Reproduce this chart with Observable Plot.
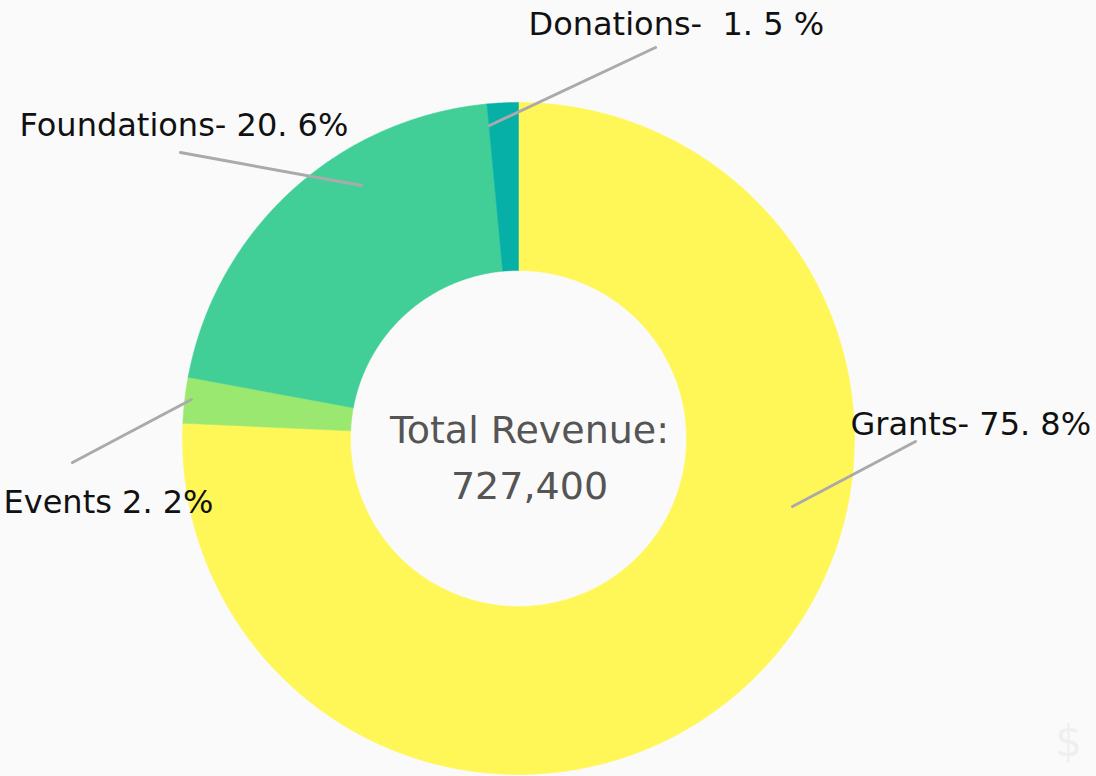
<!DOCTYPE html>
<html>
<head>
<meta charset="utf-8">
<script src="https://cdn.jsdelivr.net/npm/d3@7"></script>
<script src="https://cdn.jsdelivr.net/npm/@observablehq/plot@0.6"></script>
<style>
  html, body { margin: 0; padding: 0; background: #fafafa; }
  #chart svg { display: block; }
</style>
</head>
<body>
<div id="chart"></div>
<script>
// ---- data ----
const categories = ["Grants", "Events", "Foundations", "Donations"];
const shares = [75.8, 2.2, 20.6, 1.5];
const labels = ["Grants- 75. 8%", "Events 2. 2%", "Foundations- 20. 6%", "Donations-\u00a0 1. 5 %"];
const colors = ["#FFF757", "#9BE870", "#41CF97", "#06B0A6"];
const centerTitle = "Total Revenue:";
const totalRevenue = "727,400";
const watermark = "$";

// ---- layout (pixels) ----
const W = 1096, H = 776;
const cx = 518, cy = 438, R = 336, r = 168;
// label anchors (left x, baseline y) and leader lines, per category
const labelPos = [[850, 434], [3, 512], [19, 135], [528, 34]];
const leaders = [[[792, 506], [915, 441]], [[191, 399], [72, 462]], [[361, 185], [180, 152]], [[489, 125], [655, 47]]];

// ---- build slice polygons from the shares ----
const sum = d3.sum(shares);
const pts = [];
let acc = 0;
categories.forEach((c, i) => {
  const a0 = acc / sum * 2 * Math.PI;
  acc += shares[i];
  const a1 = acc / sum * 2 * Math.PI;
  const n = Math.max(4, Math.ceil((a1 - a0) / (Math.PI / 360)));
  const outer = [], inner = [];
  for (let k = 0; k <= n; k++) {
    const a = a0 + (a1 - a0) * k / n;
    outer.push({name: c, x: cx + R * Math.sin(a), y: cy - R * Math.cos(a)});
    inner.push({name: c, x: cx + r * Math.sin(a), y: cy - r * Math.cos(a)});
  }
  pts.push(...outer, ...inner.reverse(), outer[0]);
});

const labelData = categories.map((c, i) => ({name: c, text: labels[i], x: labelPos[i][0], y: labelPos[i][1]}));
const leaderData = categories.flatMap((c, i) => leaders[i].map(([x, y]) => ({name: c, x, y})));
const centerData = [{t: centerTitle, x: cx + 11, y: 442}, {t: totalRevenue, x: cx + 11, y: 498}];

const chart = Plot.plot({
  width: W, height: H,
  margin: 0,
  style: {background: "#fafafa", fontFamily: "'DejaVu Sans', sans-serif"},
  x: {domain: [0, W], range: [0, W], axis: null},
  y: {domain: [0, H], range: [0, H], axis: null},
  color: {domain: categories, range: colors},
  marks: [
    Plot.text([{x: 1068, y: 742}], {x: "x", y: "y", text: () => watermark, fontSize: 42, fill: "#efefef", lineAnchor: "middle"}),
    Plot.line(pts, {x: "x", y: "y", z: "name", fill: "name", stroke: "name", strokeWidth: 0.5, curve: "linear"}),
    Plot.line(leaderData, {x: "x", y: "y", z: "name", stroke: "#aaaaaa", strokeWidth: 3}),
    Plot.text(labelData, {x: "x", y: "y", text: "text", textAnchor: "start", lineAnchor: "bottom", fontSize: 32, fill: "#111111"}),
    Plot.text(centerData, {x: "x", y: "y", text: "t", textAnchor: "middle", lineAnchor: "bottom", fontSize: 38, fill: "#555555"})
  ]
});
document.getElementById("chart").append(chart);
</script>
</body>
</html>
